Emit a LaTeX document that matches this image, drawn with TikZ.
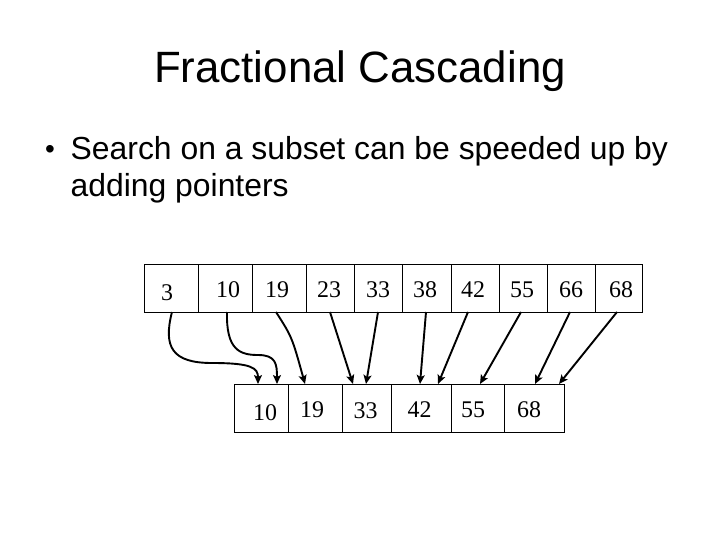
\documentclass[tikz,border=0pt]{standalone}
\usepackage{fontspec}
\setmainfont{Liberation Serif}
\newfontfamily\arialf{Liberation Sans}
\usetikzlibrary{arrows.meta}
\begin{document}
\begin{tikzpicture}[x=1bp,y=-1bp,
  cell/.style={draw=black,line width=0.9bp,minimum height=48bp,inner sep=0pt,outer sep=0pt},
  num/.style={anchor=base,inner sep=0pt,font=\fontsize{24}{28}\selectfont},
  ptr/.style={line width=1.9bp,-{Stealth[length=9bp,width=8bp,inset=2bp]}},
  txt/.style={inner sep=0pt,font=\arialf\fontsize{32}{38}\selectfont}]
\useasboundingbox (0,0) rectangle (720,540);
% title and bullet
\node[inner sep=0pt,anchor=base,font=\arialf\fontsize{44}{52}\selectfont] (title) at (360,82.7) {Fractional Cascading};
\node[txt,anchor=base,font=\arialf\fontsize{28}{30}\selectfont] (bul) at (50,158.5) {•};
\node[txt,anchor=base west] (l1) at (70.5,159.5) {Search on a subset can be speeded up by};
\node[txt,anchor=base west] (l2) at (70.5,197) {adding pointers};
% top row cells
\node[cell,minimum width=54bp] (t1) at (171,288) {};
\node[cell,minimum width=54bp] (t2) at (225,288) {};
\node[cell,minimum width=54bp] (t3) at (279,288) {};
\node[cell,minimum width=48bp] (t4) at (330,288) {};
\node[cell,minimum width=48bp] (t5) at (378,288) {};
\node[cell,minimum width=49bp] (t6) at (426.5,288) {};
\node[cell,minimum width=48bp] (t7) at (475,288) {};
\node[cell,minimum width=48bp] (t8) at (523,288) {};
\node[cell,minimum width=48bp] (t9) at (571,288) {};
\node[cell,minimum width=47bp] (t10) at (618.5,288) {};
% top row numbers
\node[num] (n1) at (167,300) {3};
\node[num] (n2) at (228,297) {10};
\node[num] (n3) at (277,297) {19};
\node[num] (n4) at (329,297) {23};
\node[num] (n5) at (378,297) {33};
\node[num] (n6) at (425,297) {38};
\node[num] (n7) at (473,297) {42};
\node[num] (n8) at (522,297) {55};
\node[num] (n9) at (571,297) {66};
\node[num] (n10) at (621,297) {68};
% bottom row cells
\node[cell,minimum width=54bp] (b1) at (261,408) {};
\node[cell,minimum width=54bp] (b2) at (315,408) {};
\node[cell,minimum width=49bp] (b3) at (366.5,408) {};
\node[cell,minimum width=60bp] (b4) at (421,408) {};
\node[cell,minimum width=53bp] (b5) at (477.5,408) {};
\node[cell,minimum width=60bp] (b6) at (534,408) {};
% bottom row numbers
\node[num] (m1) at (265,420) {10};
\node[num] (m2) at (312,417) {19};
\node[num] (m3) at (365.5,418) {33};
\node[num] (m4) at (419.5,417) {42};
\node[num] (m5) at (473,417) {55};
\node[num] (m6) at (529,417) {68};
% pointers
\draw[ptr] ([xshift=1bp]t1.south) .. controls +(-9,35) and +(-40,0) .. (212,363)
  .. controls +(40,0) and +(0,-16) .. ([xshift=-3bp]b1.north);
\draw[ptr] ([xshift=2bp]t2.south) .. controls +(-1,38) and +(-18,0) .. (258,355)
  .. controls +(18,0) and +(0,-20) .. ([xshift=16bp]b1.north);
\draw[ptr] ([xshift=-3bp]t3.south) .. controls +(16,25) .. ([xshift=-10bp]b2.north);
\draw[ptr] (t4.south) -- ([xshift=-13.5bp]b3.north);
\draw[ptr] (t5.south) -- ([xshift=-0.5bp]b3.north);
\draw[ptr] ([xshift=-0.5bp]t6.south) -- ([xshift=-1bp]b4.north);
\draw[ptr] ([xshift=-7bp]t7.south) -- ([xshift=17bp]b4.north);
\draw[ptr] ([xshift=-2bp]t8.south) -- ([xshift=2.5bp]b5.north);
\draw[ptr] ([xshift=-1bp]t9.south) -- ([xshift=1bp]b6.north);
\draw[ptr] ([xshift=-1.5bp]t10.south) -- ([xshift=25bp]b6.north);
\end{tikzpicture}
\end{document}
